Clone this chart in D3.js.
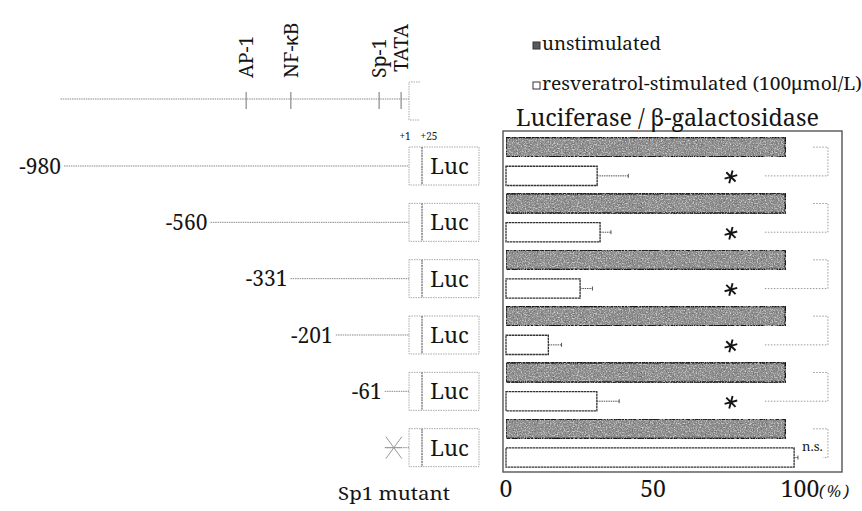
<!DOCTYPE html>
<html>
<head>
<meta charset="utf-8">
<script src="https://cdn.jsdelivr.net/npm/d3@7"></script>
<style>
  body { margin: 0; background: #fff; }
  svg { display: block; }
</style>
</head>
<body>
<div id="graphic"></div>
<script>
// constructs (promoter deletions), bottom one is the Sp1 mutant
const constructs = ["-980", "-560", "-331", "-201", "-61", "Sp1 mutant"];
const constructStart = [-980, -560, -331, -201, -61, -61];
const constructLabel = ["-980", "-560", "-331", "-201", "-61", ""];

// relative luciferase / b-gal activity (%)
const unstimulated = [95, 95, 95, 95, 95, 95];
const stimulated = [31, 32, 25.2, 14.4, 30.9, 98];
const stimulatedErr = [10.6, 3.7, 4.2, 4.5, 7.6, 1.3];
const signif = ["*", "*", "*", "*", "*", "n.s."];

// promoter elements on the top map (bp from +1)
const elementNames = ["AP-1", "NF-\u03baB", "Sp-1", "TATA"];
const elementPos = [-458, -330, -77, -14];

const xTicks = [0, 50, 100];

const width = 862, height = 511;
const ink = "#141414";
const dotted = "#8a8a8a";
const serif = "'Noto Serif', 'Liberation Serif', serif";

const svg = d3.select("#graphic").append("svg")
    .attr("width", width)
    .attr("height", height)
    .style("font-family", serif);

// grainy fill for the dark bars (scan look)
const defs = svg.append("defs");
const f = defs.append("filter").attr("id", "grain")
    .attr("x", 0).attr("y", 0).attr("width", 1).attr("height", 1);
f.append("feTurbulence").attr("type", "fractalNoise").attr("baseFrequency", 0.75)
    .attr("numOctaves", 2).attr("seed", 4).attr("result", "noise");
f.append("feColorMatrix").attr("in", "noise").attr("type", "matrix")
    .attr("values", "0 0 0 0 0  0 0 0 0 0  0 0 0 0 0  1.5 0 0 0 -0.72").attr("result", "dark");
f.append("feColorMatrix").attr("in", "noise").attr("type", "matrix")
    .attr("values", "0 0 0 0 1  0 0 0 0 1  0 0 0 0 1  0 1.6 0 0 -0.78").attr("result", "light");
f.append("feComposite").attr("in", "dark").attr("in2", "SourceGraphic").attr("operator", "in").attr("result", "d2");
f.append("feComposite").attr("in", "light").attr("in2", "SourceGraphic").attr("operator", "in").attr("result", "l2");
const fm = f.append("feMerge");
fm.append("feMergeNode").attr("in", "SourceGraphic");
fm.append("feMergeNode").attr("in", "d2");
fm.append("feMergeNode").attr("in", "l2");

// ---------- BAR CHART ----------
const x = d3.scaleLinear().domain([0, 100]).range([506, 800]);
const y = d3.scaleBand().domain(constructs).range([131, 469]);
const sub = d3.scaleBand().domain(["unst", "stim"]).range([6.5, 54.5]).paddingInner(0.33);

const frame = { x0: 503, x1: 842, y0: 131, y1: 472 };

svg.append("rect")
    .attr("x", frame.x0).attr("y", frame.y0)
    .attr("width", frame.x1 - frame.x0).attr("height", frame.y1 - frame.y0)
    .attr("fill", "none").attr("stroke", "#555").attr("stroke-width", 1.4);

const rows = svg.append("g").selectAll("g")
    .data(constructs)
    .join("g")
    .attr("transform", d => `translate(0,${y(d)})`);

const idx = d => constructs.indexOf(d);

rows.append("rect")
    .attr("x", x(0))
    .attr("y", sub("unst"))
    .attr("width", d => x(unstimulated[idx(d)]) - x(0))
    .attr("height", sub.bandwidth())
    .attr("fill", "#8e8e8e")
    .attr("stroke", "#1e1e1e").attr("stroke-width", 1.6)
    .attr("filter", "url(#grain)");

rows.append("rect")
    .attr("x", x(0))
    .attr("y", sub("stim"))
    .attr("width", d => x(stimulated[idx(d)]) - x(0))
    .attr("height", sub.bandwidth())
    .attr("fill", "#fff")
    .attr("stroke", "#333").attr("stroke-width", 1.3)
    .attr("stroke-dasharray", "2.5,0.5");

// error bars
const cy = sub("stim") + sub.bandwidth() / 2;
const gy = sub("unst") + sub.bandwidth() / 2;
const errEnd = d => x(stimulated[idx(d)] + stimulatedErr[idx(d)]);
rows.append("line")
    .attr("x1", d => x(stimulated[idx(d)]))
    .attr("x2", errEnd)
    .attr("y1", cy).attr("y2", cy)
    .attr("stroke", "#555").attr("stroke-width", 1).attr("stroke-dasharray", "1.5,0.8");
rows.append("line")
    .attr("x1", errEnd).attr("x2", errEnd)
    .attr("y1", cy - 2).attr("y2", cy + 2)
    .attr("stroke", "#555").attr("stroke-width", 1);

// significance brackets
rows.append("path")
    .attr("d", d => {
        const xr = x(109.5);
        const xs = signif[idx(d)] === "*" ? x(88) : x(107.8);
        return `M${x(104.5)},${gy}H${xr}V${cy}H${xs}`;
    })
    .attr("fill", "none").attr("stroke", "#9a9a9a").attr("stroke-width", 1)
    .attr("stroke-dasharray", "1.5,1.5");

const star = d3.symbol(d3.symbolAsterisk, 120);
rows.filter(d => signif[idx(d)] === "*")
    .append("path")
    .attr("d", star)
    .attr("transform", `translate(${x(76.5)},${cy + 1}) rotate(15)`)
    .attr("fill", "none").attr("stroke", ink).attr("stroke-width", 1.9);

rows.filter(d => signif[idx(d)] !== "*")
    .append("text")
    .attr("x", x(100) + 2)
    .attr("y", sub("stim") + 3)
    .attr("font-size", 13)
    .attr("fill", ink)
    .text(d => signif[idx(d)]);

// x tick labels
svg.append("g").selectAll("text")
    .data(xTicks)
    .join("text")
    .attr("x", d => x(d))
    .attr("y", 497)
    .attr("text-anchor", "middle")
    .attr("font-size", 23)
    .attr("fill", ink)
    .text(d => d);
svg.append("text")
    .attr("x", x(100) + 19).attr("y", 497)
    .attr("font-size", 16).attr("font-style", "italic").attr("fill", ink)
    .attr("textLength", 30)
    .text("(%)");

// title + legend
svg.append("text")
    .attr("x", 516).attr("y", 126)
    .attr("font-size", 23.5).attr("fill", ink)
    .attr("textLength", 303).attr("lengthAdjust", "spacingAndGlyphs")
    .text("Luciferase / \u03b2-galactosidase");

const legendNames = ["unstimulated", "resveratrol-stimulated (100\u03bcmol/L)"];
const legendFill = ["#5a5a5a", "#fff"];
const legendLen = [119, 320];
const legend = svg.append("g").selectAll("g")
    .data(legendNames)
    .join("g")
    .attr("transform", (d, i) => `translate(533,${50 + i * 40})`);
legend.append("rect")
    .attr("x", 0).attr("y", -8).attr("width", 7).attr("height", 7)
    .attr("fill", (d, i) => legendFill[i])
    .attr("stroke", "#333").attr("stroke-width", 1);
legend.append("text")
    .attr("x", 9).attr("y", 0)
    .attr("font-size", 17.5).attr("fill", ink)
    .attr("textLength", (d, i) => legendLen[i]).attr("lengthAdjust", "spacingAndGlyphs")
    .text(d => d);

// ---------- PROMOTER DIAGRAM ----------
const bp = d3.scaleLinear().domain([-980, 0]).range([64, 406]);
const boxL = 409, boxInner = 422, boxR = 479, boxH = 38;
const mapY = 99;

svg.append("line")
    .attr("x1", bp(-990)).attr("x2", boxL)
    .attr("y1", mapY).attr("y2", mapY)
    .attr("stroke", dotted).attr("stroke-width", 1).attr("stroke-dasharray", "1.5,0.8");

const el = svg.append("g").selectAll("g")
    .data(elementNames)
    .join("g")
    .attr("transform", (d, i) => `translate(${bp(elementPos[i])},0)`);
el.append("line")
    .attr("y1", mapY - 7).attr("y2", mapY + 10)
    .attr("stroke", dotted).attr("stroke-width", 1.2);
el.append("text")
    .attr("transform", (d, i) => `translate(0,${i === 3 ? 72 : 78}) rotate(-90)`)
    .attr("dy", "0.36em")
    .attr("font-size", 19.5)
    .attr("fill", ink)
    .text(d => d);

svg.append("path")
    .attr("d", `M${boxL + 11},${mapY - 17}H${boxL}V${mapY + 21}H${boxL + 11}`)
    .attr("fill", "none").attr("stroke", "#aaa").attr("stroke-width", 1)
    .attr("stroke-dasharray", "1.5,1");

svg.append("text").attr("x", boxL - 4).attr("y", 140)
    .attr("text-anchor", "middle").attr("font-size", 10).attr("fill", ink).text("+1");
svg.append("text").attr("x", boxInner + 7).attr("y", 140)
    .attr("text-anchor", "middle").attr("font-size", 10).attr("fill", ink).text("+25");

const rowCy = d => y(d) + 35;
const cons = svg.append("g").selectAll("g")
    .data(constructs)
    .join("g")
    .attr("transform", d => `translate(0,${rowCy(d)})`);

cons.append("line")
    .attr("x1", d => bp(constructStart[idx(d)]))
    .attr("x2", boxL)
    .attr("stroke", dotted).attr("stroke-width", 1).attr("stroke-dasharray", "1.5,0.8");

cons.append("text")
    .attr("x", d => bp(constructStart[idx(d)]) - 3)
    .attr("dy", "0.36em")
    .attr("text-anchor", "end")
    .attr("font-size", 21)
    .attr("fill", ink)
    .text(d => constructLabel[idx(d)]);

cons.append("rect")
    .attr("x", boxL).attr("y", -boxH / 2)
    .attr("width", boxR - boxL).attr("height", boxH)
    .attr("fill", "#fff").attr("stroke", "#aaa").attr("stroke-width", 1)
    .attr("stroke-dasharray", "1.5,1");
cons.append("line")
    .attr("x1", boxInner).attr("x2", boxInner)
    .attr("y1", -boxH / 2).attr("y2", boxH / 2)
    .attr("stroke", "#666").attr("stroke-width", 1.2).attr("stroke-dasharray", "2,0.7");
cons.append("text")
    .attr("x", (boxInner + boxR) / 2 - 1)
    .attr("dy", "0.36em")
    .attr("text-anchor", "middle")
    .attr("font-size", 22)
    .attr("fill", ink)
    .text("Luc");

// mutated Sp1 site
const mut = cons.filter(d => constructLabel[idx(d)] === "");
const mx = (bp(-61) + boxL) / 2 - 3;
mut.append("path")
    .attr("d", `M${mx - 8},-11L${mx + 8},11M${mx - 8},11L${mx + 8},-11M${mx - 8},0H${mx + 8}`)
    .attr("stroke", "#999").attr("stroke-width", 1).attr("fill", "none");

svg.append("text")
    .attr("x", 338).attr("y", 500)
    .attr("font-size", 18).attr("fill", ink)
    .attr("textLength", 112).attr("lengthAdjust", "spacingAndGlyphs")
    .text("Sp1 mutant");
</script>
</body>
</html>
